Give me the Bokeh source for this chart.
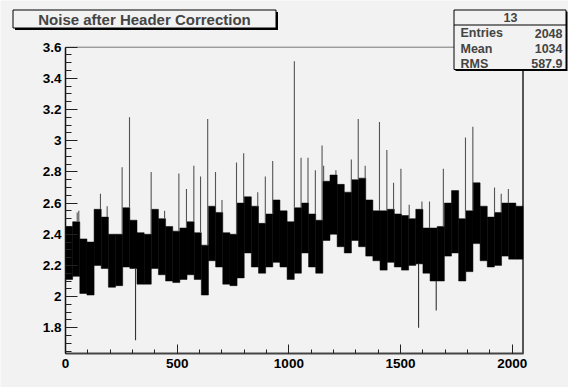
from bokeh.plotting import figure
from bokeh.models import (Range1d, FixedTicker, BoxAnnotation, Label,
                          ColumnDataSource, CustomJSTickFormatter)
from bokeh.embed import file_html
from bokeh.resources import INLINE

# ---------------- data ----------------
N_BINS = 2048
CHUNK = 32  # bins per envelope chunk

# upper / lower edge of the dense noise band, one value per 32 bins
chunk_hi = [2.45, 2.48, 2.37, 2.35, 2.56, 2.51, 2.40, 2.40,
            2.57, 2.49, 2.41, 2.40, 2.56, 2.50, 2.45, 2.42,
            2.44, 2.48, 2.41, 2.33, 2.58, 2.54, 2.41, 2.40,
            2.60, 2.64, 2.58, 2.47, 2.53, 2.62, 2.55, 2.48,
            2.57, 2.60, 2.53, 2.49, 2.74, 2.78, 2.72, 2.67,
            2.75, 2.76, 2.62, 2.55, 2.55, 2.56, 2.53, 2.52,
            2.50, 2.56, 2.44, 2.44, 2.45, 2.60, 2.68, 2.50,
            2.55, 2.73, 2.58, 2.51, 2.54, 2.60, 2.60, 2.58]
chunk_lo = [2.11, 2.13, 2.02, 2.01, 2.20, 2.18, 2.06, 2.07,
            2.19, 2.18, 2.08, 2.08, 2.18, 2.14, 2.10, 2.09,
            2.11, 2.14, 2.11, 2.01, 2.23, 2.19, 2.08, 2.07,
            2.12, 2.28, 2.19, 2.15, 2.19, 2.22, 2.19, 2.11,
            2.15, 2.28, 2.19, 2.15, 2.36, 2.40, 2.32, 2.28,
            2.36, 2.32, 2.26, 2.23, 2.17, 2.22, 2.19, 2.17,
            2.20, 2.21, 2.15, 2.10, 2.10, 2.26, 2.28, 2.10,
            2.16, 2.34, 2.23, 2.19, 2.20, 2.26, 2.24, 2.24]

# isolated single-bin spikes
spike_up_bins = [52, 59, 156, 186, 253, 286, 383, 443, 507, 541, 574, 604,
                 636, 671, 700, 765, 797, 860, 894, 927, 1024, 1054, 1085,
                 1118, 1148, 1155, 1210, 1279, 1310, 1341, 1405, 1438, 1468,
                 1501, 1538, 1595, 1629, 1691, 1790, 1823, 1920, 1950, 1982]
spike_up_vals = [2.54, 2.55, 2.66, 2.58, 2.83, 3.15, 2.80, 2.55, 2.79, 2.69, 2.84, 2.77,
                 3.14, 2.80, 2.62, 2.86, 2.92, 2.67, 2.77, 2.87, 3.51, 2.89, 2.89,
                 2.81, 2.97, 2.84, 2.81, 2.88, 3.14, 2.84, 3.12, 2.94, 2.73,
                 2.82, 2.59, 2.61, 2.61, 2.82, 3.02, 3.09, 2.70, 2.66, 2.69]
spike_dn_bins = [313, 1580, 1659]
spike_dn_vals = [1.72, 1.80, 1.91]

x_major = [0, 500, 1000, 1500, 2000]
x_minor = [100 * k for k in range(21)]
y_major = [1.8, 2.0, 2.2, 2.4, 2.6, 2.8, 3.0, 3.2, 3.4, 3.6]
y_minor = [round(1.65 + 0.05 * k, 2) for k in range(40)]

title_text = "Noise after Header Correction"
stats_name = "13"
stats_rows = ["Entries", "Mean", "RMS"]
stats_vals = ["2048", "1034", "587.9"]

# ---------------- layout geometry ----------------
W, H = 568, 387
FL, FR, FT, FB = 65.0, 522.5, 46.7, 353.3      # histogram frame (pixels)
X0, X1 = 0.0, float(N_BINS)
Y0, Y1 = 1.633, 3.6
sx = (FR - FL) / (X1 - X0)
sy = (FB - FT) / (Y1 - Y0)
xr = Range1d(X0 - FL / sx, X1 + (W - FR) / sx)
yr = Range1d(Y0 - (H - FB) / sy, Y1 + FT / sy)

BG = "#f2f2f2"
FONT = "Liberation Sans"

p = figure(width=W, height=H, output_backend="svg", toolbar_location=None,
           x_range=xr, y_range=yr, title_location=None,
           min_border_left=0, min_border_right=0, min_border_top=0,
           min_border_bottom=0, background_fill_color=BG,
           border_fill_color=BG, outline_line_color=None)
p.xgrid.visible = False
p.ygrid.visible = False

# frame top / right edges
p.segment(x0=[X0, X1], y0=[Y1, Y0], x1=[X1, X1], y1=[Y1, Y1],
          line_color=["#777777", "#222222"], line_width=[1, 1.5])

band = ColumnDataSource(dict(
    left=[i * CHUNK for i in range(len(chunk_hi))],
    right=[(i + 1) * CHUNK for i in range(len(chunk_hi))],
    top=chunk_hi, bottom=chunk_lo))
p.quad(left="left", right="right", top="top", bottom="bottom", source=band,
       fill_color="black", line_color="black", line_width=0.5)

up = ColumnDataSource(dict(
    x=[b + 0.5 for b in spike_up_bins],
    y0=[chunk_hi[b // CHUNK] for b in spike_up_bins],
    y1=spike_up_vals))
p.segment(x0="x", y0="y0", x1="x", y1="y1", source=up,
          line_color="#555555", line_width=1.1)
dn = ColumnDataSource(dict(
    x=[b + 0.5 for b in spike_dn_bins],
    y0=[chunk_lo[b // CHUNK] for b in spike_dn_bins],
    y1=spike_dn_vals))
p.segment(x0="x", y0="y0", x1="x", y1="y1", source=dn,
          line_color="#333333", line_width=1.1)

fmt = CustomJSTickFormatter(code="return String(Math.round(tick*100)/100);")
for ax, maj, mino, tin, mtin in ((p.xaxis[0], x_major, x_minor, 9, 4),
                                 (p.yaxis[0], y_major, y_minor, 12, 6)):
    ax.ticker = FixedTicker(ticks=maj, minor_ticks=mino)
    ax.formatter = fmt
    ax.major_tick_in = tin
    ax.major_tick_out = 0
    ax.minor_tick_in = mtin
    ax.minor_tick_out = 0
    ax.major_label_text_font = FONT
    ax.major_label_text_font_style = "bold"
    ax.major_label_text_font_size = "13.5px"
    ax.major_label_text_color = "black"
    ax.major_tick_line_color = "#222222"
    ax.minor_tick_line_color = "#222222"
p.xaxis.fixed_location = Y0
p.xaxis.bounds = (X0, X1)
p.yaxis.fixed_location = X0
p.yaxis.bounds = (Y0, Y1)
p.xaxis.axis_line_color = "#444444"
p.xaxis.axis_line_width = 2
p.xaxis.major_label_standoff = 5
p.yaxis.axis_line_color = "#111111"
p.yaxis.axis_line_width = 1.5
p.yaxis.major_label_standoff = 4

# ---------------- paves ----------------
def box(l, r, t, b, **kw):
    p.add_layout(BoxAnnotation(left=l, right=r, top=t, bottom=b,
                               left_units="canvas", right_units="canvas",
                               top_units="canvas", bottom_units="canvas", **kw))

def pave(l, r, t, b, sh=2):
    box(l + sh, r + sh, t + sh, b + sh, fill_color="black", fill_alpha=1, line_alpha=0)
    box(l, r, t, b, fill_color=BG, fill_alpha=1, line_color="black",
        line_width=1, line_alpha=1)

def text(x, y, s, size, align):
    p.add_layout(Label(x=x, y=y, x_units="canvas", y_units="canvas", text=s,
                       text_font=FONT, text_font_style="bold",
                       text_font_size=size, text_align=align,
                       text_baseline="middle"))

pave(12.5, 275.5, 9.5, 27.5)
text(144, 19, title_text, "15px", "center")

pave(453.5, 565.5, 9.5, 69, sh=1.5)
box(453.5, 565.5, 24, 25, fill_color="black", fill_alpha=1, line_alpha=0)
text(510, 17, stats_name, "12.5px", "center")
for k, (name, val) in enumerate(zip(stats_rows, stats_vals)):
    yy = 32.8 + 15.2 * k
    text(460, yy, name, "12.5px", "left")
    text(562, yy, val, "12.5px", "right")

open("out.html", "w").write(file_html(p, INLINE))
